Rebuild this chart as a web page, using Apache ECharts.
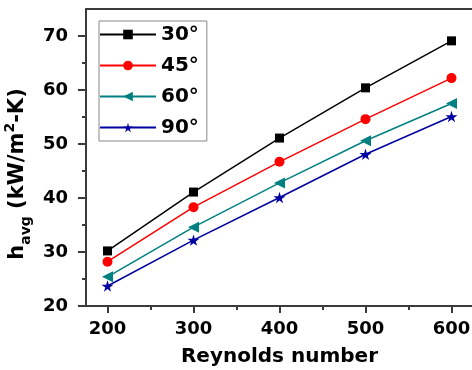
<!DOCTYPE html>
<html><head><meta charset="utf-8">
<script src="https://cdn.jsdelivr.net/npm/echarts@6/dist/echarts.min.js"></script>
<style>html,body{margin:0;padding:0;background:#fff}#c{width:472px;height:370px}</style>
</head><body><div id="c"></div>
<script>
const reynolds = [200, 300, 400, 500, 600];
const h30 = [30.2, 41.1, 51.1, 60.4, 69.1];
const h45 = [28.2, 38.3, 46.7, 54.6, 62.2];
const h60 = [25.4, 34.6, 42.8, 50.6, 57.5];
const h90 = [23.7, 32.2, 40.1, 48.1, 55.1];
const seriesNames = ['30°', '45°', '60°', '90°'];
const xTicks = [200, 300, 400, 500, 600];
const yTicks = [20, 30, 40, 50, 60, 70];

const FONT = 'DejaVu Sans';
const AX = '#3a3a3a';
const STAR = 'path://M50,0 L61,35 L98,35 L68,57 L79,91 L50,70 L21,91 L32,57 L2,35 L39,35 Z';
const TRI_LEFT = 'path://M0,50 L100,0 L100,100 Z';

function mk(name, vals, color, symbol, size) {
  return {
    name: name, type: 'line',
    data: reynolds.map((x, i) => [x, vals[i]]),
    symbol: symbol, symbolSize: size, symbolKeepAspect: true,
    lineStyle: { color: color, width: 1.5 },
    itemStyle: { color: color },
    emphasis: { disabled: true },
    animation: false
  };
}

const chart = echarts.init(document.getElementById('c'));
chart.setOption({
  backgroundColor: '#fff',
  animation: false,
  grid: { left: 86, right: -1, top: 9, bottom: 64, show: false, containLabel: false, outerBoundsMode: 'none' },
  legend: {
    orient: 'vertical', left: 99, top: 21,
    itemWidth: 56, itemHeight: 12, itemGap: 10,
    padding: [3, 8, 3, 0],
    borderColor: '#888', borderWidth: 1,
    textStyle: { fontFamily: FONT, fontWeight: 'bold', fontSize: 20, color: '#000', lineHeight: 21 },
    data: seriesNames
  },
  xAxis: [{
    type: 'value', min: 175, max: 625, minInterval: 100, maxInterval: 100,
    axisLine: { show: true, lineStyle: { color: AX, width: 2 } },
    axisTick: { show: true, customValues: xTicks, length: 7, lineStyle: { color: AX, width: 2 } },
    minorTick: { show: true, splitNumber: 2, length: 4, lineStyle: { color: AX, width: 2 } },
    axisLabel: { customValues: xTicks, margin: 14, fontFamily: FONT, fontWeight: 'bold', fontSize: 18, color: '#000' },
    splitLine: { show: false },
    name: 'Reynolds number', nameLocation: 'middle', nameGap: 41,
    nameTextStyle: { fontFamily: FONT, fontWeight: 'bold', fontSize: 20, color: '#000' }
  }, {
    type: 'value', position: 'top', min: 175, max: 625,
    axisLine: { show: true, lineStyle: { color: AX, width: 2 } },
    axisTick: { show: false }, minorTick: { show: false },
    axisLabel: { show: false }, splitLine: { show: false }
  }],
  yAxis: {
    type: 'value', min: 20, max: 75, interval: 10,
    axisLine: { show: true, lineStyle: { color: AX, width: 2 } },
    axisTick: { show: true, customValues: yTicks, length: 8, lineStyle: { color: AX, width: 2 } },
    minorTick: { show: true, splitNumber: 2, length: 4, lineStyle: { color: AX, width: 2 } },
    axisLabel: { customValues: yTicks, margin: 18, fontFamily: FONT, fontWeight: 'bold', fontSize: 18, color: '#000' },
    splitLine: { show: false }
  },
  graphic: [{
    type: 'text', x: 18, y: 174, rotation: Math.PI / 2, silent: true,
    style: {
      text: 'h{sub|avg} (kW/m{sup|2}-K)',
      fontFamily: FONT, fontWeight: 'bold', fontSize: 21, fill: '#000',
      align: 'center', verticalAlign: 'middle', lineHeight: 30,
      rich: {
        sub: { fontFamily: FONT, fontWeight: 'bold', fontSize: 14, lineHeight: 14, verticalAlign: 'bottom', fill: '#000' },
        sup: { fontFamily: FONT, fontWeight: 'bold', fontSize: 14, lineHeight: 14, verticalAlign: 'top', fill: '#000' }
      }
    }
  }],
  series: [
    mk(seriesNames[0], h30, '#000000', 'rect', 9),
    mk(seriesNames[1], h45, '#ff0000', 'circle', 10),
    mk(seriesNames[2], h60, '#008080', TRI_LEFT, 11),
    mk(seriesNames[3], h90, '#0000a0', STAR, 12)
  ]
});
</script>
</body></html>
